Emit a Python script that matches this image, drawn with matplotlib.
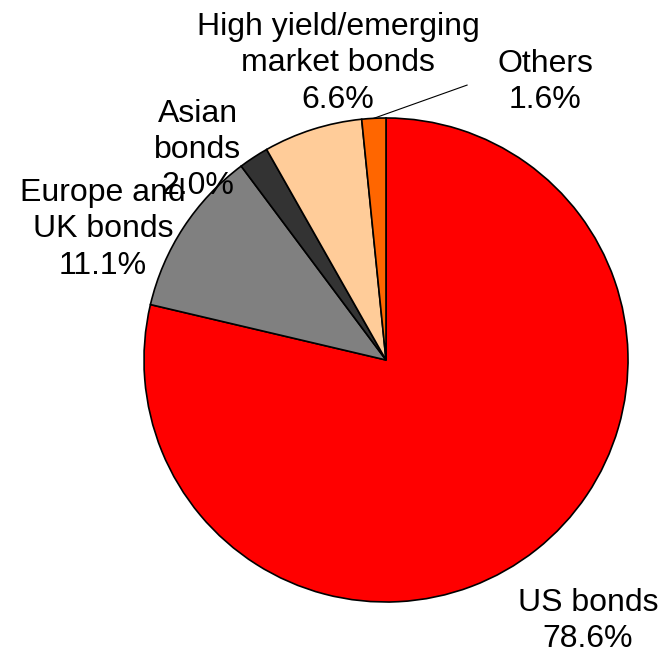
import numpy as np
import matplotlib.pyplot as plt

plt.rcParams['font.family'] = ['Liberation Sans', 'DejaVu Sans']

# portfolio split, clockwise from 12 o'clock
labels = ['US bonds', 'Europe and\nUK bonds', 'Asian\nbonds',
          'High yield/emerging\nmarket bonds', 'Others']
shares = [78.6, 11.1, 2.0, 6.6, 1.6]
colors = ['#FF0000', '#808080', '#333333', '#FFCC99', '#FF6600']

# where each label sits, in units of the pie radius
label_pos = [(0.835, -1.079), (-1.170, 0.541), (-0.777, 0.868),
             (-0.198, 1.227), (0.657, 1.149)]

W, H = 663, 659
fig = plt.figure(figsize=(W / 100, H / 100), dpi=100)
cx, cy, r = 386, 360, 242
ax = fig.add_axes([(cx - r) / W, (H - cy - r) / H, 2 * r / W, 2 * r / H])

wedges, _ = ax.pie(shares, colors=colors, startangle=90, counterclock=False,
                   radius=1.0, wedgeprops=dict(edgecolor='black', linewidth=1.2))
ax.set_xlim(-1.0, 1.0)
ax.set_ylim(-1.0, 1.0)
ax.set_aspect('equal')
ax.axis('off')

for lab, val, (x, y) in zip(labels, shares, label_pos):
    ax.text(x, y, f'{lab}\n{val:.1f}%', ha='center', va='center',
            fontsize=23, linespacing=1.28, clip_on=False)

# leader line for the thin "Others" slice
w = wedges[-1]
mid = np.deg2rad((w.theta1 + w.theta2) / 2)
ax.plot([np.cos(mid), 0.335], [np.sin(mid), 1.136], color='black',
        linewidth=0.8, clip_on=False)

fig.savefig('out.png', dpi=100)
